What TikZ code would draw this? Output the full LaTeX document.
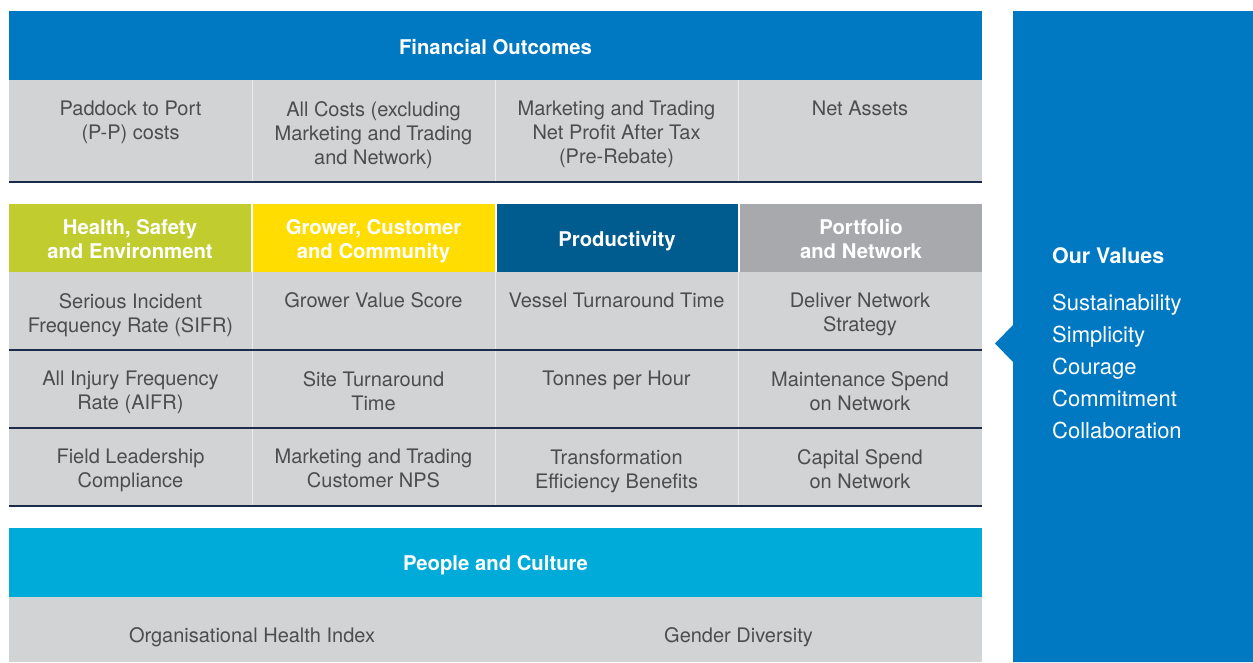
\documentclass[tikz,border=0pt]{standalone}
\usepackage{fontspec}
\setmainfont{TeX Gyre Heros}
\definecolor{finblue}{HTML}{0079C2}
\definecolor{hsgreen}{HTML}{C1CD2F}
\definecolor{gcyellow}{HTML}{FFDD00}
\definecolor{prodblue}{HTML}{005B8F}
\definecolor{portgrey}{HTML}{A7A9AC}
\definecolor{peopleblue}{HTML}{00ABDA}
\definecolor{cellgrey}{HTML}{D1D3D5}
\definecolor{txtgrey}{HTML}{4D4D4F}
\definecolor{navy}{HTML}{1C2B4A}
\begin{document}
\begin{tikzpicture}[x=1pt,y=-1pt,
  hdr/.style={text=white, font=\bfseries\fontsize{20.3}{24}\selectfont, align=center, inner sep=0pt, outer sep=0pt, minimum height=68pt, text depth=0pt},
  hdrtxt/.style={text=white, font=\bfseries\fontsize{20.3}{24}\selectfont, align=center, inner sep=0pt, text depth=0pt},
  celltxt/.style={text=txtgrey, font=\fontsize{20}{24}\selectfont, align=center, inner sep=0pt, anchor=north, execute at begin node=\strut},
  ml/.style={yshift=-3pt},
  rowline/.style={draw=navy, line width=1.5pt},
  thickline/.style={draw=navy, line width=2.6pt},
  colsep/.style={draw=white!55!cellgrey, line width=0.9pt},
  valtxt/.style={text=white, font=\fontsize{22}{26}\selectfont, anchor=base west, inner sep=0pt}
]
\useasboundingbox (0,0) rectangle (1253,662);
% ---------- Financial outcomes ----------
\fill[finblue] (9,11) rectangle (982,80);
\node[hdrtxt] (fin) at (495.5,46.5) {Financial Outcomes};
\fill[cellgrey] (9,80) rectangle (982,182);
\draw[colsep] (252,80) -- (252,181);
\draw[colsep] (495,80) -- (495,181);
\draw[colsep] (738,80) -- (738,181);
\draw[thickline] (9,182) -- (982,182);
\node[celltxt, ml] (f1) at (130.5,98.2) {Paddock to Port\\(P-P) costs};
\node[celltxt, ml] (f2) at (373.5,98.2) {All Costs (excluding\\Marketing and Trading\\and Network)};
\node[celltxt, ml] (f3) at (616.5,98.2) {Marketing and Trading\\Net Profit After Tax\\(Pre-Rebate)};
\node[celltxt] (f4) at (860,98.2) {Net Assets};
% ---------- Category headers ----------
\fill[hsgreen] (9,204) rectangle (251,272);
\fill[gcyellow] (253,204) rectangle (494.5,272);
\fill[prodblue] (496.5,204) rectangle (737.5,272);
\fill[portgrey] (739.5,204) rectangle (982,272);
\node[hdrtxt] (hse) at (130,239) {Health, Safety\\and Environment};
\node[hdrtxt] (gcc) at (373.5,239) {Grower, Customer\\and Community};
\node[hdrtxt] (prod) at (617,239) {Productivity};
\node[hdrtxt] (port) at (861,239) {Portfolio\\and Network};
% ---------- KPI grid ----------
\fill[cellgrey] (9,272) rectangle (982,506);
\draw[colsep] (252,272) -- (252,505);
\draw[colsep] (495,272) -- (495,505);
\draw[colsep] (738,272) -- (738,505);
\draw[rowline] (9,350) -- (982,350);
\draw[rowline] (9,428) -- (982,428);
\draw[thickline] (9,506) -- (982,506);
% row 1
\node[celltxt, ml] (a1) at (130.5,290.2) {Serious Incident\\Frequency Rate (SIFR)};
\node[celltxt] (b1) at (373.5,290.2) {Grower Value Score};
\node[celltxt] (c1) at (616.5,290.2) {Vessel Turnaround Time};
\node[celltxt, ml] (d1) at (860,290.2) {Deliver Network\\Strategy};
% row 2
\node[celltxt, ml] (a2) at (130.5,368.2) {All Injury Frequency\\Rate (AIFR)};
\node[celltxt, ml] (b2) at (373.5,368.2) {Site Turnaround\\Time};
\node[celltxt] (c2) at (616.5,368.2) {Tonnes per Hour};
\node[celltxt, ml] (d2) at (860,368.2) {Maintenance Spend\\on Network};
% row 3
\node[celltxt, ml] (a3) at (130.5,446.2) {Field Leadership\\Compliance};
\node[celltxt, ml] (b3) at (373.5,446.2) {Marketing and Trading\\Customer NPS};
\node[celltxt, ml] (c3) at (616.5,446.2) {Transformation\\Efficiency Benefits};
\node[celltxt, ml] (d3) at (860,446.2) {Capital Spend\\on Network};
% ---------- People and culture ----------
\fill[peopleblue] (9,528) rectangle (982,597);
\node[hdrtxt] (ppl) at (495.5,563) {People and Culture};
\fill[cellgrey] (9,597) rectangle (982,662);
\node[celltxt] (p1) at (252,625.2) {Organisational Health Index};
\node[celltxt] (p2) at (738.5,625.2) {Gender Diversity};
% ---------- Our values panel ----------
\fill[finblue] (1013,11) -- (1253,11) -- (1253,662) -- (1013,662) -- (1013,362) -- (995,343.5) -- (1013,325) -- cycle;
\node[valtxt, font=\bfseries\fontsize{21.4}{26}\selectfont] (vh) at (1052,263) {Our Values};
\node[valtxt] (v1) at (1052,310.5) {Sustainability};
\node[valtxt] (v2) at (1052,342.5) {Simplicity};
\node[valtxt] (v3) at (1052,374.5) {Courage};
\node[valtxt] (v4) at (1052,406.5) {Commitment};
\node[valtxt] (v5) at (1052,438.5) {Collaboration};
\end{tikzpicture}
\end{document}
